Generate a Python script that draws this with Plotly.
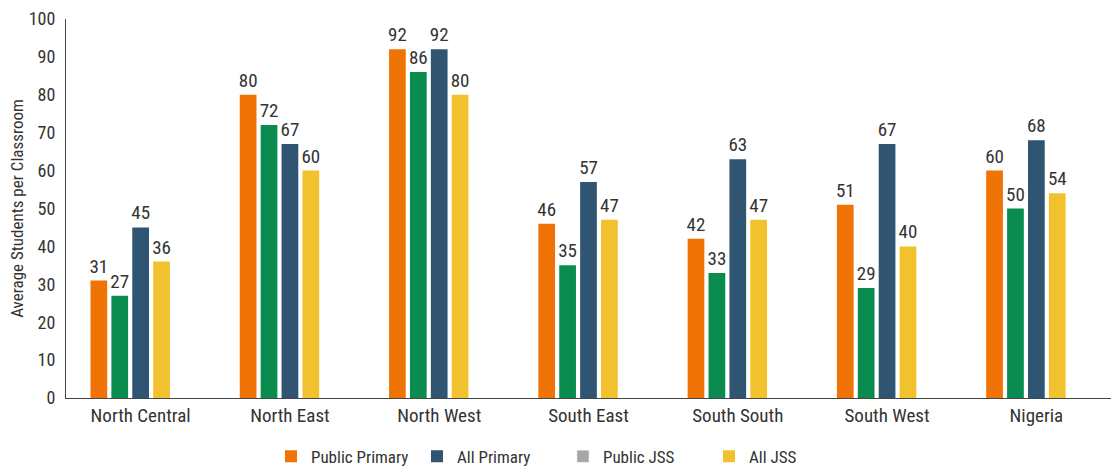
import plotly.graph_objects as go

regions = ["North Central", "North East", "North West", "South East",
           "South South", "South West", "Nigeria"]
public_primary = [31, 80, 92, 46, 42, 51, 60]
public_jss = [27, 72, 86, 35, 33, 29, 50]
all_primary = [45, 67, 92, 57, 63, 67, 68]
all_jss = [36, 60, 80, 47, 47, 40, 54]
y_ticks = [0, 10, 20, 30, 40, 50, 60, 70, 80, 90, 100]

FONT = "Roboto Condensed, Liberation Sans Narrow, DejaVu Sans Condensed, Roboto, sans-serif"
TXT = "#333333"

ORANGE = "#F07405"
GREEN = "#0A8C50"
BLUE = "#2F5573"
YELLOW = "#F2C12E"
GRAY = "#A6A6A6"


def bars(name, values, color, rank, show=True):
    return go.Bar(
        x=regions, y=values, name=name,
        marker=dict(color=color, line=dict(width=0)),
        text=[str(v) for v in values], textposition="outside",
        constraintext="none",
        textfont=dict(family=FONT, size=19, color=TXT),
        cliponaxis=False, showlegend=show, legendrank=rank,
    )


fig = go.Figure()
fig.add_trace(bars("Public Primary", public_primary, ORANGE, 1))
fig.add_trace(bars("Public JSS", public_jss, GREEN, 3, show=False))
fig.add_trace(bars("All Primary", all_primary, BLUE, 2))
fig.add_trace(bars("All JSS", all_jss, YELLOW, 4))
# legend swatch for the Public JSS series
fig.add_trace(go.Bar(x=regions, y=[None] * len(regions), name="Public JSS",
                     marker=dict(color=GRAY), legendrank=3, showlegend=True))

fig.update_layout(
    width=1117, height=468,
    margin=dict(l=66, r=6, t=19, b=70),
    plot_bgcolor="white", paper_bgcolor="white",
    barmode="group", bargap=0.30, bargroupgap=0.2,
    font=dict(family=FONT, size=19, color=TXT),
    legend=dict(orientation="h", xref="container", yref="container",
                x=0.2426, xanchor="left", y=0.024, yanchor="middle",
                font=dict(family=FONT, size=17, color=TXT),
                itemwidth=30, entrywidth=101, traceorder="normal"),
)
fig.update_xaxes(showline=True, linecolor="#444444", linewidth=1,
                 ticks="", tickfont=dict(family=FONT, size=19, color=TXT))
fig.update_yaxes(range=[0, 100], tickvals=y_ticks, showgrid=False,
                 showline=True, linecolor="#444444", linewidth=1, zeroline=False,
                 ticks="", ticklabelstandoff=6,
                 tickfont=dict(family=FONT, size=18, color=TXT),
                 title=dict(text="Average Students per Classroom",
                            font=dict(family=FONT, size=17, color=TXT), standoff=0))

fig.write_html("out.html")
